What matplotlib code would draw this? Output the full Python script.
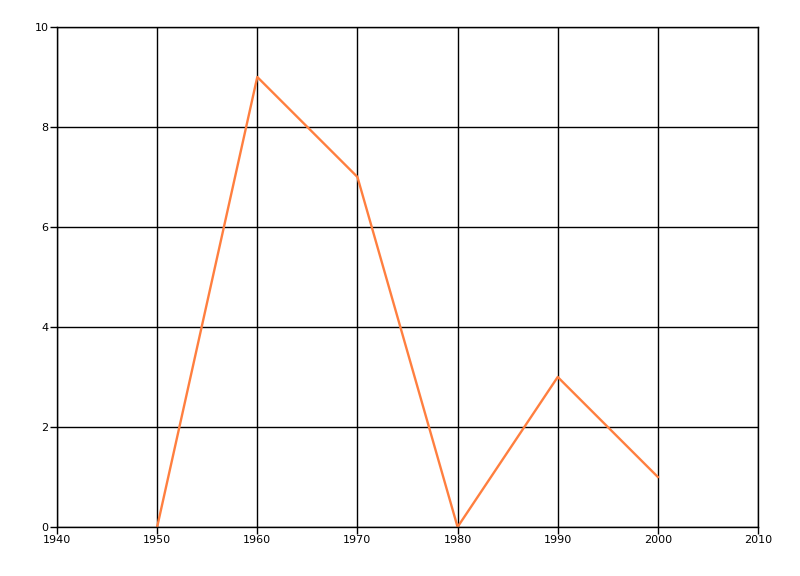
import matplotlib
matplotlib.use('Agg')
import matplotlib.pyplot as plt

years = [1950, 1960, 1970, 1980, 1990, 2000]
values = [0, 9, 7, 0, 3, 1]

fig = plt.figure(figsize=(8, 5.76), dpi=100)
ax = fig.add_axes([57/800, 49/576, 701/800, 500/576])

ax.plot(years, values, color='#ff7f3f', linewidth=1.7)

ax.set_xlim(1940, 2010)
ax.set_ylim(0, 10)
ax.set_xticks(range(1940, 2011, 10))
ax.set_yticks(range(0, 11, 2))
ax.grid(True, color='black', linewidth=1)
ax.set_axisbelow(True)
for s in ax.spines.values():
    s.set_linewidth(1)
ax.tick_params(length=5, width=1, labelsize=8, pad=1, colors='black')

fig.savefig('out.png', dpi=100)
